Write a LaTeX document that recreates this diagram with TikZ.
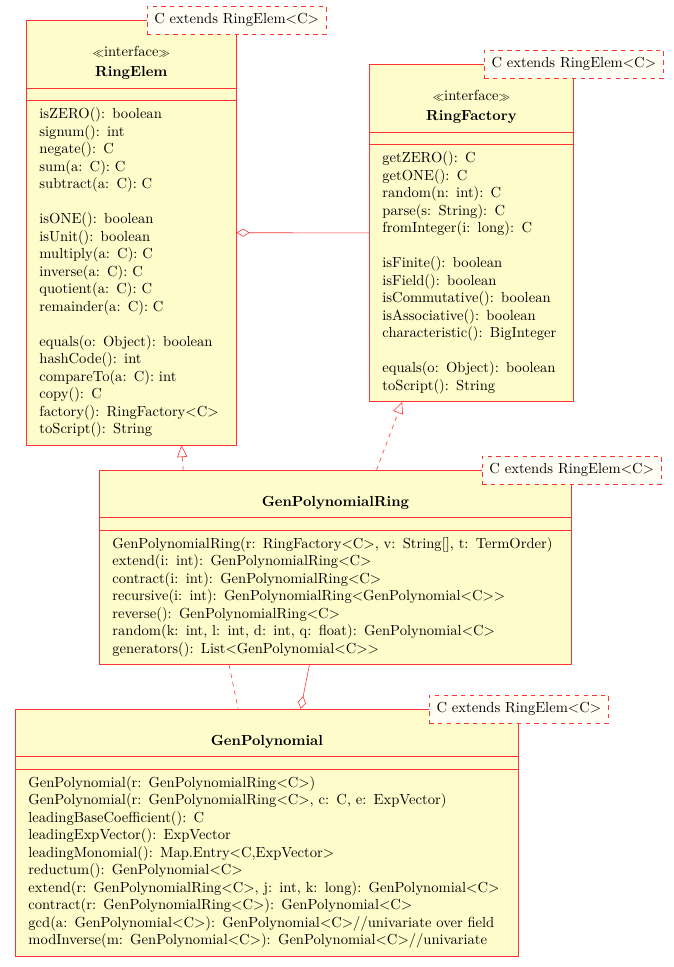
\documentclass[tikz,border=0pt]{standalone}
\usepackage{amsmath, amssymb}
\usepackage{tikz}
\usetikzlibrary{calc, arrows.meta, shapes.multipart}
\newcommand{\tlt}{$<$}
\newcommand{\tgt}{$>$}
\newcommand{\stereo}{$\scriptstyle\ll$interface$\scriptstyle\gg$}
\newcommand{\classname}[1]{\makebox[\hsize]{\begin{tabular}{@{}c@{}}#1\end{tabular}}}

\tikzset{
  umlclass/.style={rectangle split, rectangle split parts=3, draw=red!80, fill=yellow!20,
    anchor=north west, align=left, inner xsep=9pt, inner ysep=4pt,
    rectangle split empty part height=1.6pt, rectangle split empty part depth=0pt},
  umltemplate/.style={draw=red!80, dashed, fill=yellow!4, inner xsep=5pt, inner ysep=5pt},
  realize/.style={draw=red!80, dashed, -{Triangle[open, length=8pt, width=7pt]}},
  aggregate/.style={draw=red!80, -{Diamond[open, length=9pt, width=5.5pt]}},
}

\begin{document}
\begin{tikzpicture}[x=0.0241cm, y=-0.0241cm]
\useasboundingbox (0,0) rectangle (674,967);

% the two interfaces
\node[umlclass, text width=126pt] (RingElem) at (26,20) {
  \classname{\\ \stereo\\[2pt] \textbf{RingElem}}
  \nodepart{two}
  \nodepart{three}
  \begin{tabular}{@{}l@{}}
  isZERO(): boolean\\
  signum(): int\\
  negate(): C\\
  sum(a: C): C\\
  subtract(a: C): C\\
  \\
  isONE(): boolean\\
  isUnit(): boolean\\
  multiply(a: C): C\\
  inverse(a: C): C\\
  quotient(a: C): C\\
  remainder(a: C): C\\
  \\
  equals(o: Object): boolean\\
  hashCode(): int\\
  compareTo(a: C): int\\
  copy(): C\\
  factory(): RingFactory\tlt C\tgt\\
  toScript(): String
  \end{tabular}
};
\node[umlclass, text width=122pt] (RingFactory) at (369,64) {
  \classname{\\ \stereo\\[2pt] \textbf{RingFactory}}
  \nodepart{two}
  \nodepart{three}
  \begin{tabular}{@{}l@{}}
  getZERO(): C\\
  getONE(): C\\
  random(n: int): C\\
  parse(s: String): C\\
  fromInteger(i: long): C\\
  \\
  isFinite(): boolean\\
  isField(): boolean\\
  isCommutative(): boolean\\
  isAssociative(): boolean\\
  characteristic(): BigInteger\\
  \\
  equals(o: Object): boolean\\
  toScript(): String
  \end{tabular}
};

% the two classes
\node[umlclass, text width=305.7pt] (GenPolynomialRing) at (99,470) {
  \classname{\\ \textbf{GenPolynomialRing}}
  \nodepart{two}
  \nodepart{three}
  \begin{tabular}{@{}l@{}}
  GenPolynomialRing(r: RingFactory\tlt C\tgt, v: String[], t: TermOrder)\\
  extend(i: int): GenPolynomialRing\tlt C\tgt\\
  contract(i: int): GenPolynomialRing\tlt C\tgt\\
  recursive(i: int): GenPolynomialRing\tlt GenPolynomial\tlt C\tgt\tgt\\
  reverse(): GenPolynomialRing\tlt C\tgt\\
  random(k: int, l: int, d: int, q: float): GenPolynomial\tlt C\tgt\\
  generators(): List\tlt GenPolynomial\tlt C\tgt\tgt
  \end{tabular}
};
\node[umlclass, text width=327pt] (GenPolynomial) at (15,709) {
  \classname{\\ \textbf{GenPolynomial}}
  \nodepart{two}
  \nodepart{three}
  \begin{tabular}{@{}l@{}}
  GenPolynomial(r: GenPolynomialRing\tlt C\tgt)\\
  GenPolynomial(r: GenPolynomialRing\tlt C\tgt, c: C, e: ExpVector)\\
  leadingBaseCoefficient(): C\\
  leadingExpVector(): ExpVector\\
  leadingMonomial(): Map.Entry\tlt C,ExpVector\tgt\\
  reductum(): GenPolynomial\tlt C\tgt\\
  extend(r: GenPolynomialRing\tlt C\tgt, j: int, k: long): GenPolynomial\tlt C\tgt\\
  contract(r: GenPolynomialRing\tlt C\tgt): GenPolynomial\tlt C\tgt\\
  gcd(a: GenPolynomial\tlt C\tgt): GenPolynomial\tlt C\tgt//univariate over field\\
  modInverse(m: GenPolynomial\tlt C\tgt): GenPolynomial\tlt C\tgt//univariate
  \end{tabular}
};

% connectors
\coordinate (elemFoot) at ($(RingElem.south west)!0.738!(RingElem.south east)$);
\coordinate (factFoot) at ($(RingFactory.south west)!0.162!(RingFactory.south east)$);
\coordinate (ringHeadA) at ($(GenPolynomialRing.north west)!0.178!(GenPolynomialRing.north east)$);
\coordinate (ringHeadB) at ($(GenPolynomialRing.north west)!0.587!(GenPolynomialRing.north east)$);
\coordinate (ringFootA) at ($(GenPolynomialRing.south west)!0.275!(GenPolynomialRing.south east)$);
\coordinate (ringFootB) at ($(GenPolynomialRing.south west)!0.445!(GenPolynomialRing.south east)$);
\coordinate (polyHeadA) at ($(GenPolynomial.north west)!0.443!(GenPolynomial.north east)$);
\coordinate (polyHeadB) at ($(GenPolynomial.north west)!0.567!(GenPolynomial.north east)$);
\draw[aggregate] (RingFactory.west) -- (RingElem.east);
\draw[realize] (ringHeadA) -- (elemFoot);
\draw[realize] (ringHeadB) -- (factFoot);
\draw[red!80, dashed] (ringFootA) -- (polyHeadA);
\draw[aggregate] (ringFootB) -- (polyHeadB);

% templates
\node[umltemplate] (tplRingElem) at (RingElem.north east) {C extends RingElem\tlt C\tgt};
\node[umltemplate] (tplRingFactory) at (RingFactory.north east) {C extends RingElem\tlt C\tgt};
\node[umltemplate] (tplGenPolynomialRing) at (GenPolynomialRing.north east) {C extends RingElem\tlt C\tgt};
\node[umltemplate] (tplGenPolynomial) at (GenPolynomial.north east) {C extends RingElem\tlt C\tgt};
\end{tikzpicture}
\end{document}
